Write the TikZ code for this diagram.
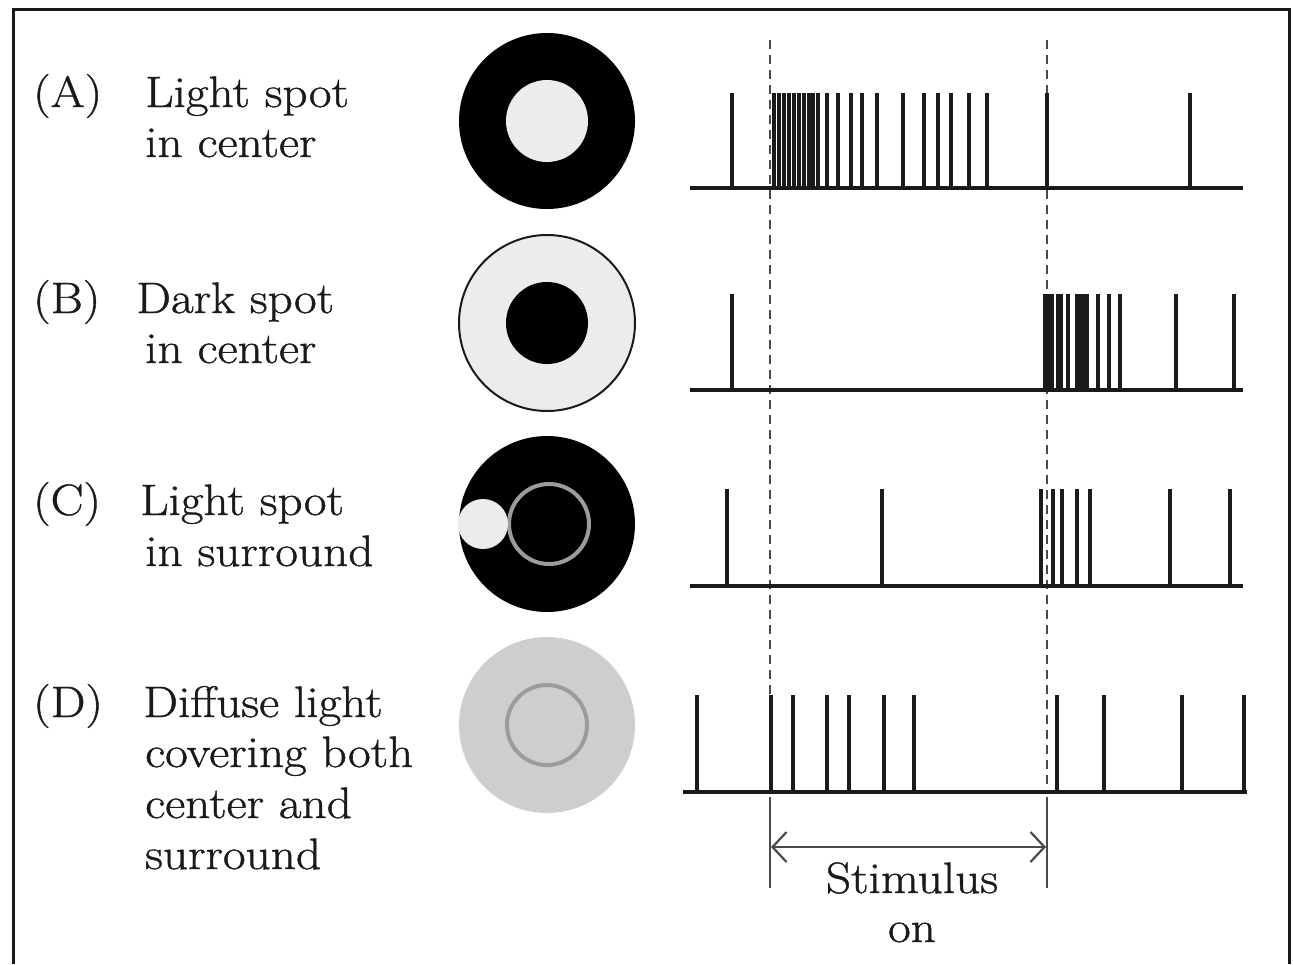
\documentclass[tikz,border=0pt]{standalone}
\usepackage{fontspec}
\setmainfont{Latin Modern Roman}[FakeStretch=1.12, FakeBold=0.9]
\usetikzlibrary{arrows.meta}
\definecolor{ink}{HTML}{1A1A1A}
\definecolor{lightfill}{HTML}{ECECEC}
\definecolor{diffuse}{HTML}{CECECE}
\definecolor{ringgrey}{HTML}{9C9C9C}
\definecolor{guidegrey}{HTML}{4A4A4A}
\tikzset{
  spike/.style={line width=3.6pt, draw=ink},
  axisline/.style={line width=4pt, draw=ink},
  guideline/.style={line width=2.2pt, draw=guidegrey, dash pattern=on 9pt off 6pt},
  markline/.style={line width=2.2pt, draw=guidegrey},
  txt/.style={anchor=base west, inner sep=0pt, text=ink, font=\fontsize{44}{50}\selectfont},
  disk/.style={circle, inner sep=0pt, minimum size=176pt},
  spot/.style={circle, inner sep=0pt, minimum size=82pt},
}
% draw one vertical spike for every x position in the list
\newcommand{\spiketrain}[3]{%
  \foreach \s in {#1} {\draw[spike] (\s,#2) -- (\s,#3);}
}
\begin{document}
\begin{tikzpicture}[x=1pt, y=-1pt]
\useasboundingbox (0,0) rectangle (1293,964);
\fill[white] (0,0) rectangle (1293,964);
% frame
\draw[line width=3pt, ink] (13,964) -- (13,9) -- (1289,9) -- (1289,964);

% row labels
\node[txt] (la) at (33,107) {(A)};
\node[txt] (ta1) at (145,107) {Light spot};
\node[txt] (ta2) at (145,157) {in center};
\node[txt] (lb) at (33,313) {(B)};
\node[txt] (tb1) at (136,313) {Dark spot};
\node[txt] (tb2) at (145,363) {in center};
\node[txt] (lc) at (33,515) {(C)};
\node[txt] (tc1) at (140,515) {Light spot};
\node[txt] (tc2) at (145,566) {in surround};
\node[txt] (ld) at (33,717) {(D)};
\node[txt] (td1) at (143,717) {Diffuse light};
\node[txt] (td2) at (145,767) {covering both};
\node[txt] (td3) at (145,818) {center and};
\node[txt] (td4) at (145,869) {surround};

% receptive field stimuli
\node[disk, fill=black] (fa) at (547,121) {};
\node[spot, fill=lightfill] (fac) at (547,121) {};
\node[disk, fill=lightfill, draw=ink, line width=2pt] (fb) at (547,323) {};
\node[spot, fill=black] (fbc) at (547,323) {};
\node[disk, fill=black] (fc) at (547,524) {};
\node[spot, draw=ringgrey, line width=4pt, minimum size=80pt] (fcc) at (549,524) {};
\node[circle, inner sep=0pt, minimum size=50pt, fill=lightfill] (fcs) at (483,524) {};
\node[disk, fill=diffuse] (fd) at (547,725) {};
\node[spot, draw=ringgrey, line width=4pt, minimum size=80pt] (fdc) at (547,725) {};

% stimulus on/off guides
\coordinate (on0) at (770,40);
\coordinate (off0) at (1047,40);
\coordinate (on1) at (770,792);
\coordinate (off1) at (1047,792);
\coordinate (on2) at (770,797);
\coordinate (off2) at (1047,797);
\coordinate (on3) at (770,888);
\coordinate (off3) at (1047,888);
\draw[guideline] (on0) -- (on1);
\draw[guideline] (off0) -- (off1);
\draw[markline] (on2) -- (on3);
\draw[markline] (off2) -- (off3);
\coordinate (arl) at (771,847);
\coordinate (arr) at (1046,847);
\draw[markline, {Straight Barb[length=14pt, width=30pt, line width=2.2pt]}-{Straight Barb[length=14pt, width=30pt, line width=2.2pt]}] (arl) -- (arr);
\node[anchor=base, inner sep=0pt, text=ink, font=\fontsize{44}{50}\selectfont] (stim) at (912,893) {Stimulus};
\node[anchor=base, inner sep=0pt, text=ink, font=\fontsize{44}{50}\selectfont] (stimon) at (912,942) {on};

% spike trains
\spiketrain{732,774,779,784,789,794,799,804,809,813,818,827,838,851,862,877,903,924,938,951,969,987,1047,1190}{93}{188}
\draw[axisline] (690,188) -- (1243,188);
\spiketrain{732,1045,1049,1052,1058,1061,1068,1077,1080,1084,1087,1098,1109,1120,1176,1234}{294}{390}
\draw[axisline] (690,390) -- (1243,390);
\spiketrain{727,882,1041,1053,1062,1077,1090,1170,1230}{489}{586}
\draw[axisline] (690,586) -- (1243,586);
\spiketrain{697,771,793,827,849,884,914,1057,1104,1182,1244}{695}{792}
\draw[axisline] (683,792) -- (1247,792);
\end{tikzpicture}
\end{document}
